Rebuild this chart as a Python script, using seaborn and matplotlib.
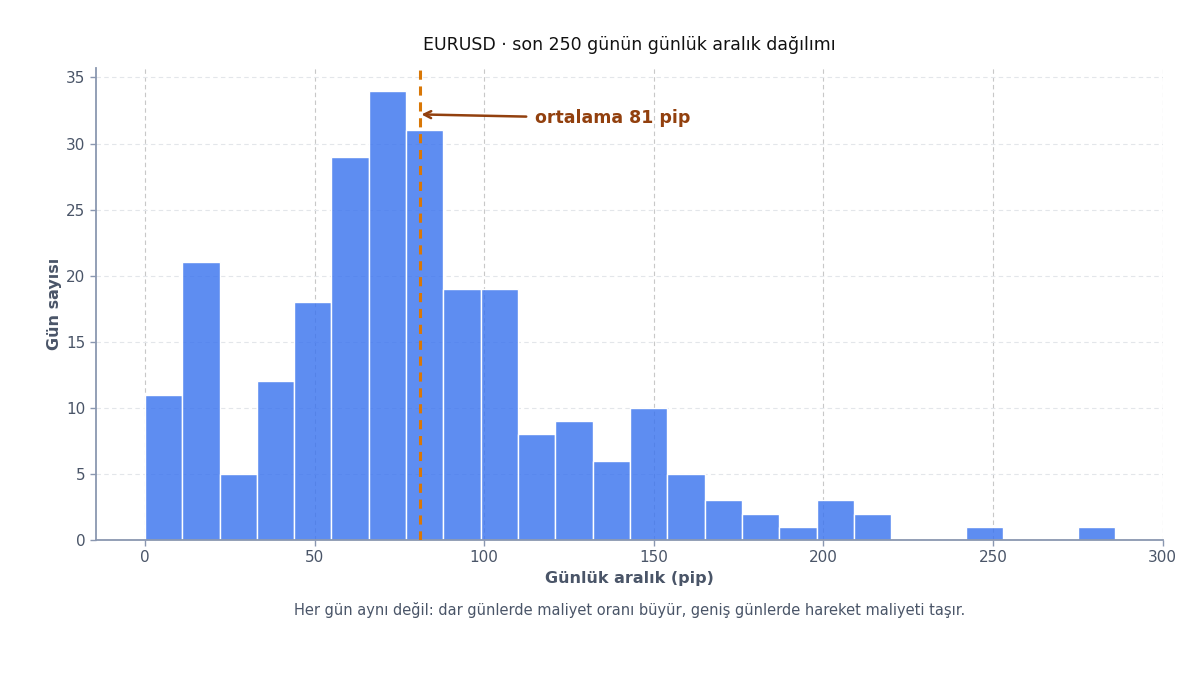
import numpy as np
import pandas as pd
import matplotlib
matplotlib.use("Agg")
import matplotlib.pyplot as plt
import seaborn as sns

# ---- data ----
bin_edges = [0, 11, 22, 33, 44, 55, 66, 77, 88, 99, 110, 121, 132, 143, 154,
             165, 176, 187, 198, 209, 220, 231, 242, 253, 264, 275, 286]
counts = [11, 21, 5, 12, 18, 29, 34, 31, 19, 19, 8, 9, 6, 10, 5,
          3, 2, 1, 3, 2, 0, 0, 1, 0, 0, 1]
mean_pip = 81
title = "EURUSD · son 250 günün günlük aralık dağılımı"
xlabel = "Günlük aralık (pip)"
ylabel = "Gün sayısı"
caption = "Her gün aynı değil: dar günlerde maliyet oranı büyür, geniş günlerde hareket maliyeti taşır."
annot = "ortalama 81 pip"

centers = [(a + b) / 2 for a, b in zip(bin_edges[:-1], bin_edges[1:])]
df = pd.DataFrame({"range": centers, "days": counts})

sns.set_theme(style="white")
plt.rcParams["font.family"] = ["DejaVu Sans"]

fig = plt.figure(figsize=(12, 6.75), dpi=100)
ax_left, ax_w = 0.08, 0.889
ax = fig.add_axes([ax_left, 0.2, ax_w, 0.699])

sns.histplot(data=df, x="range", weights="days", bins=bin_edges, ax=ax,
             color="#3b74ef", alpha=0.82, edgecolor="white", linewidth=1.0)

ax.axvline(mean_pip, color="#d97706", linestyle=(0, (3, 2.2)), linewidth=2.2, zorder=3)

ax.set_xlim(-14.4, 300)
ax.set_ylim(0, 35.7)
ax.set_xticks([0, 50, 100, 150, 200, 250, 300])
ax.set_yticks([0, 5, 10, 15, 20, 25, 30, 35])

ax.grid(axis="x", color="#c8c8c8", linestyle=(0, (4, 3)), linewidth=0.8)
ax.grid(axis="y", color="#e3e6ea", linestyle=(0, (4, 3)), linewidth=0.8)
ax.set_axisbelow(True)

for s in ["top", "right"]:
    ax.spines[s].set_visible(False)
for s in ["left", "bottom"]:
    ax.spines[s].set_color("#8a97b0")
    ax.spines[s].set_linewidth(1.3)

ax.tick_params(axis="both", colors="#4a5568", labelsize=11, length=4,
               width=1, direction="out", bottom=True, left=True)
ax.tick_params(axis="both", color="#8a97b0")

ax.set_xlabel(xlabel, fontsize=11.5, fontweight="bold", color="#4a5568", labelpad=4)
ax.set_ylabel(ylabel, fontsize=11.5, fontweight="bold", color="#4a5568", labelpad=3)
ax.set_title(title, fontsize=12.5, color="#111111", pad=13)

ax.annotate(annot, xy=(mean_pip + 0.5, 32.2), xytext=(115, 31.9),
            fontsize=12.5, fontweight="bold", color="#92400e",
            ha="left", va="center",
            arrowprops=dict(arrowstyle="->", color="#92400e", lw=1.8,
                            shrinkA=4, shrinkB=0))

fig.text(ax_left + ax_w / 2, 1 - 610 / 675, caption, ha="center", va="center",
         fontsize=10.5, color="#4a5568")

fig.savefig("out.png", dpi=100, facecolor="white")
